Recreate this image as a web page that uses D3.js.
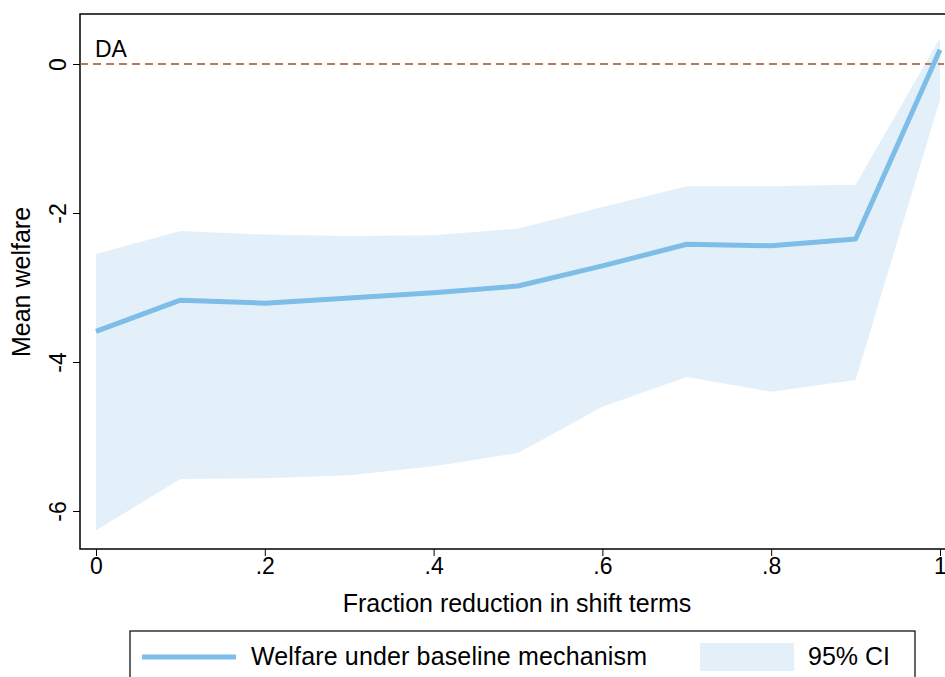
<!DOCTYPE html>
<html><head><meta charset="utf-8">
<script src="https://cdn.jsdelivr.net/npm/d3@7"></script>
<style>body{margin:0;background:#fff;font-family:Arial,"Liberation Sans",sans-serif;}</style>
</head><body><svg id="chart" width="945" height="677"></svg>
<script>
let fractions = [0, .1, .2, .3, .4, .5, .6, .7, .8, .9, 1];
let welfare = [-3.59, -3.17, -3.21, -3.14, -3.07, -2.98, -2.71, -2.42, -2.44, -2.35, 0.19];
let ciUpper = [-2.55, -2.24, -2.29, -2.31, -2.30, -2.21, -1.92, -1.64, -1.64, -1.62, 0.35];
let ciLower = [-6.26, -5.57, -5.56, -5.52, -5.40, -5.22, -4.60, -4.20, -4.40, -4.24, -0.48];
let xTicks = [0, .2, .4, .6, .8, 1];
let xLabels = ["0", ".2", ".4", ".6", ".8", "1"];
let yTicks = [0, -2, -4, -6];

let svg = d3.select("#chart");
let x = d3.scaleLinear().domain([0, 1]).range([96, 940]);
let y = d3.scaleLinear().domain([0, -6]).range([64, 511]);
let fs = 25;

// plot frame
svg.append("rect").attr("x", 80).attr("y", 14).attr("width", 866).attr("height", 535)
    .attr("fill", "none").attr("stroke", "#000").attr("stroke-width", 1.5);

let band = d3.area().x((d, i) => x(fractions[i])).y0((d, i) => y(ciLower[i])).y1(d => y(d));
svg.append("path").datum(ciUpper).attr("d", band).attr("fill", "#e4f0f9");

svg.append("line").attr("x1", 80).attr("x2", 944).attr("y1", y(0)).attr("y2", y(0))
    .attr("stroke", "#a0522d").attr("stroke-width", 1.5).attr("stroke-dasharray", "8,5");
svg.append("text").attr("x", 95).attr("y", 57).attr("font-size", fs - 2).text("DA");

let line = d3.line().x((d, i) => x(fractions[i])).y(d => y(d));
svg.append("path").datum(welfare).attr("d", line).attr("fill", "none")
    .attr("stroke", "#7dbde8").attr("stroke-width", 5).attr("stroke-linejoin", "round");

let xAxis = svg.append("g").attr("transform", "translate(0,549)")
    .call(d3.axisBottom(x).tickValues(xTicks).tickFormat((d, i) => xLabels[i]).tickSize(7).tickSizeOuter(0));
xAxis.select(".domain").remove();
xAxis.selectAll("text").attr("font-size", fs - 2).attr("fill", "#000").attr("font-family", "Arial, Liberation Sans").attr("y", 9);

let yAxis = svg.append("g").attr("transform", "translate(80,0)")
    .call(d3.axisLeft(y).tickValues(yTicks).tickFormat(d => String(d)).tickSize(7).tickSizeOuter(0));
yAxis.select(".domain").remove();
yAxis.selectAll(".tick text").attr("font-size", fs - 2).attr("fill", "#000").attr("font-family", "Arial, Liberation Sans")
    .attr("text-anchor", "middle").attr("x", -14).attr("y", 0).attr("dy", "0")
    .attr("transform", "rotate(-90,-14,0)");

svg.append("text").attr("x", 517).attr("y", 612).attr("text-anchor", "middle").attr("font-size", fs)
    .text("Fraction reduction in shift terms");
svg.append("text").attr("transform", "translate(30,282) rotate(-90)").attr("text-anchor", "middle")
    .attr("font-size", fs).text("Mean welfare");

// legend
svg.append("rect").attr("x", 130).attr("y", 631).attr("width", 785).attr("height", 50)
    .attr("fill", "#fff").attr("stroke", "#000").attr("stroke-width", 1.2);
svg.append("line").attr("x1", 142).attr("x2", 236).attr("y1", 657).attr("y2", 657)
    .attr("stroke", "#7dbde8").attr("stroke-width", 5);
svg.append("text").attr("x", 251).attr("y", 665).attr("font-size", fs).attr("textLength", 396).text("Welfare under baseline mechanism");
svg.append("rect").attr("x", 700).attr("y", 643).attr("width", 94).attr("height", 28).attr("fill", "#e4f0f9");
svg.append("text").attr("x", 808).attr("y", 665).attr("font-size", fs).text("95% CI");
</script></body></html>
